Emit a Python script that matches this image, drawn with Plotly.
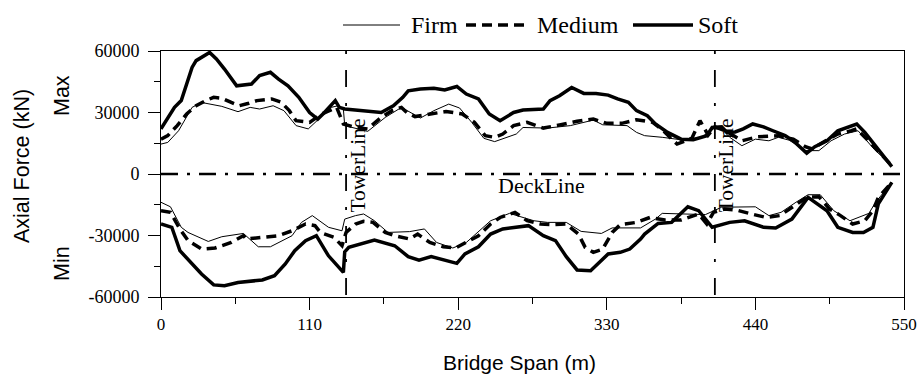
import plotly.graph_objects as go

# ---------------- data ----------------
soft_max_x = [0, 10, 15, 23, 26, 30, 36, 41, 47, 56, 67, 73, 81, 87, 94, 102, 110, 116, 121, 129, 132, 136,
              163, 172, 179, 183, 192, 202, 210, 219, 226, 235, 243, 251, 261, 268, 283, 288, 295, 304, 313,
              322, 331, 338, 346, 352, 360, 366, 375, 385, 394, 404, 408, 415, 419, 425, 431, 438, 446, 453,
              462, 468, 478, 484, 493, 501, 509, 515, 521, 531, 541]
soft_max_y = [22000, 32500, 35800, 52000, 55300, 57000, 59300, 56100, 51200, 43000, 43900, 48000, 49600, 46300,
              43000, 37400, 30000, 26800, 30000, 35800, 32500, 31700, 30000, 33300, 37400, 40600, 41500, 41800,
              41000, 42700, 39000, 36600, 29300, 26000, 30000, 31200, 31700, 35800, 38200, 42200, 39300, 39300,
              38500, 36600, 35000, 30900, 28400, 24400, 20300, 17000, 16700, 18700, 22700, 23000, 20300, 20500,
              22000, 24400, 23000, 21100, 18700, 16200, 10200, 13300, 16200, 21100, 23200, 24400, 20300, 12200,
              3600]

medium_max_x = [0, 5, 12, 19, 26, 33, 39, 45, 52, 58, 65, 71, 82, 89, 95, 100, 110, 119, 130, 135, 144, 153,
                163, 171, 178, 182, 188, 199, 211, 223, 232, 240, 247, 253, 261, 271, 283, 295, 308, 320, 330,
                341, 352, 364, 372, 382, 393, 399, 405, 410, 418, 430, 442, 457, 468, 477, 482, 492, 501, 511,
                515, 526, 541]
medium_max_y = [17000, 18700, 23600, 29300, 33300, 35800, 37400, 37000, 34900, 33300, 34500, 35800, 36600,
                35000, 30900, 26000, 25200, 29300, 32500, 24400, 22700, 22000, 27600, 30900, 32500, 30000,
                28000, 29000, 30500, 29300, 25200, 18700, 17900, 19500, 23600, 25200, 22400, 23900, 25700,
                26800, 24700, 24700, 26500, 25200, 21000, 14600, 17500, 26000, 19000, 23000, 21000, 16200,
                18200, 18700, 17000, 13300, 12200, 16200, 19500, 21100, 22000, 14600, 4000]

firm_max_x = [0, 5, 13, 23, 30, 45, 57, 66, 73, 83, 91, 100, 109, 118, 126, 131, 135, 136, 144, 153, 166, 178,
              192, 202, 213, 221, 230, 239, 247, 263, 268, 286, 303, 320, 327, 345, 352, 358, 371, 385, 400,
              409, 415, 421, 430, 440, 450, 457, 465, 477, 487, 496, 506, 516, 528, 541]
firm_max_y = [14600, 15400, 21100, 32500, 34900, 33000, 30400, 32500, 31700, 33300, 30900, 23600, 22000,
              27600, 32500, 33300, 31700, 23600, 22400, 20800, 27600, 32500, 27300, 30900, 34100, 32200,
              25200, 17400, 15800, 19500, 22700, 22400, 23600, 26300, 24000, 23600, 20300, 18700, 17900,
              16700, 17900, 22000, 22000, 17900, 13800, 17000, 16200, 17900, 16500, 11400, 11400, 16200,
              19500, 21100, 12000, 4000]

soft_min_x = [0, 8, 14, 23, 30, 39, 47, 57, 75, 84, 92, 99, 107, 115, 124, 135, 136, 139, 149, 158, 173,
              183, 191, 200, 219, 225, 235, 244, 253, 272, 283, 292, 300, 308, 318, 331, 340, 347, 355, 358,
              368, 378, 390, 398, 408, 421, 432, 446, 455, 467, 479, 493, 501, 512, 520, 527, 531, 541]
soft_min_y = [-24400, -26000, -37400, -43900, -48800, -54100, -54500, -52900, -51700, -49600, -43900, -37400,
              -32500, -30100, -39900, -48000, -38000, -35800, -34100, -32200, -35000, -40300, -42000, -40300,
              -43600, -39000, -35500, -29300, -26800, -25200, -30100, -32500, -40300, -46800, -47200, -39000,
              -38200, -36600, -31700, -29300, -24100, -23600, -16000, -17900, -26000, -23600, -22800, -26000,
              -26300, -22000, -11400, -17900, -26000, -28500, -28500, -26000, -14600, -4100]

medium_min_x = [0, 7, 14, 20, 30, 40, 52, 61, 63, 75, 87, 97, 107, 114, 118, 128, 134, 137, 144, 150, 157,
                166, 173, 184, 190, 199, 209, 218, 226, 235, 244, 251, 262, 271, 281, 290, 300, 309, 314, 320,
                327, 334, 340, 352, 362, 373, 385, 398, 404, 409, 417, 426, 437, 448, 458, 467, 478, 487, 495,
                503, 512, 521, 527, 531, 541]
medium_min_y = [-17900, -18700, -26800, -32500, -36600, -36100, -33400, -30100, -31700, -30900, -30100,
                -27700, -24400, -25200, -28500, -30900, -35000, -28500, -24400, -23100, -23600, -28500,
                -30100, -31700, -29300, -33400, -35500, -36100, -33400, -30100, -24400, -21200, -18700,
                -22800, -24400, -24700, -24400, -29300, -35800, -38200, -36600, -28500, -24700, -23600,
                -21200, -22400, -22400, -19500, -24400, -18700, -17100, -17600, -19500, -21200, -20300,
                -16200, -11400, -11100, -17100, -20300, -24400, -22800, -17900, -11400, -4100]

firm_min_x = [0, 7, 15, 20, 35, 45, 61, 72, 81, 97, 104, 112, 124, 134, 136, 144, 150, 158, 168, 184, 195,
              204, 216, 226, 244, 258, 276, 286, 300, 311, 326, 334, 355, 366, 371, 388, 403, 415, 440, 450,
              459, 470, 479, 488, 498, 510, 524, 529, 541]
firm_min_y = [-13800, -16000, -26000, -28500, -32900, -30600, -29000, -35500, -35500, -30100, -23600, -20300,
              -26000, -27700, -22000, -20300, -19500, -22800, -28500, -28100, -26800, -33400, -36100, -33400,
              -22800, -19200, -22800, -23600, -23600, -28000, -29000, -26300, -26300, -22000, -19200, -19500,
              -19800, -16200, -16000, -20300, -18700, -13800, -10100, -10100, -17900, -22800, -19200, -13800,
              -4000]

tower_x = [137, 410]
deck_y = 0
x_ticks = [0, 110, 220, 330, 440, 550]
y_ticks = [-60000, -30000, 0, 30000, 60000]
y_ticktext = ["-60000", "-30000", "0", "30000", "60000"]

# ---------------- figure ----------------
SERIF = "Liberation Serif"
SANS = "Liberation Sans"
W, H = 917, 377
L, R, T, B = 161, 13, 51, 80
PW, PH = W - L - R, H - T - B


def px_x(p):
    return (p - L) / PW


def px_y(p):
    return (H - B - p) / PH


fig = go.Figure()

styles = {
    "Firm": dict(width=1, dash="solid"),
    "Medium": dict(width=3.5, dash="10px,6px"),
    "Soft": dict(width=3.5, dash="solid"),
}
series = [
    ("Firm", firm_max_x, firm_max_y), ("Medium", medium_max_x, medium_max_y), ("Soft", soft_max_x, soft_max_y),
    ("Firm", firm_min_x, firm_min_y), ("Medium", medium_min_x, medium_min_y), ("Soft", soft_min_x, soft_min_y),
]
for name, xs, ys in series:
    fig.add_trace(go.Scatter(x=xs, y=ys, mode="lines", name=name, showlegend=False,
                             line=dict(color="black", **styles[name])))

# deck line and tower lines
fig.add_shape(type="line", xref="x", yref="y", x0=0, x1=550, y0=deck_y, y1=deck_y,
              line=dict(color="black", width=2.5, dash="17px,9px,3px,9px"))
for tx in tower_x:
    fig.add_shape(type="line", xref="x", yref="y", x0=tx, x1=tx, y0=60000, y1=-60000,
                  line=dict(color="black", width=1.8, dash="3px,16px,17px,16px"))
    fig.add_annotation(text="TowerLine", x=tx, xref="x", y=px_y(165.5), yref="paper",
                       xshift=11, textangle=-90, showarrow=False, xanchor="center", yanchor="middle",
                       font=dict(family=SERIF, size=21.5, color="black"))

fig.add_annotation(text="DeckLine", x=px_x(541), y=px_y(185), xref="paper", yref="paper",
                   xanchor="center", yanchor="middle",
                   showarrow=False, font=dict(family=SERIF, size=22, color="black"))

# manual legend
leg_y = px_y(25)
legend_items = [("Firm", 343, 400, 409), ("Medium", 466, 526, 535), ("Soft", 633, 693, 696)]
for name, a, b, tx in legend_items:
    fig.add_shape(type="line", xref="paper", yref="paper", x0=px_x(a), x1=px_x(b), y0=leg_y, y1=leg_y,
                  line=dict(color="black", **styles[name]))
    fig.add_annotation(text=name, x=px_x(tx), y=leg_y, xref="paper", yref="paper", xanchor="left",
                       yanchor="middle", showarrow=False, font=dict(family=SERIF, size=24, color="black"))

# axis titles
def side_text(text, x, y, angle, size=21.5):
    fig.add_annotation(text=text, x=px_x(x), y=px_y(y), xref="paper", yref="paper",
                       xanchor="center", yanchor="middle", textangle=angle, showarrow=False,
                       font=dict(family=SANS, size=size, color="black"))


side_text("Axial Force (kN)", 22, 166, -90)
side_text("Max", 62, 95, -90)
side_text("Min", 62, 263, -90)
side_text("Bridge Span (m)", 519, 362, 0, size=21)

axis_common = dict(showgrid=False, zeroline=False, showline=True, linecolor="black", linewidth=1,
                   mirror=True, automargin=False, ticks="outside", ticklen=12, tickcolor="black",
                   tickwidth=1)
fig.update_xaxes(range=[0, 550], tickmode="array", tickvals=x_ticks,
                 tickfont=dict(family=SERIF, size=17, color="black"),
                 minor=dict(tick0=0, dtick=55, ticks="outside", ticklen=6,
                            tickcolor="black", tickwidth=1),
                 **axis_common)
fig.update_yaxes(range=[-60000, 60000], tickmode="array", tickvals=y_ticks, ticktext=y_ticktext,
                 ticklabelstandoff=5, tickfont=dict(family=SERIF, size=18, color="black"),
                 minor=dict(tick0=0, dtick=15000, ticks="outside", ticklen=6,
                            tickcolor="black", tickwidth=1),
                 **axis_common)

fig.update_layout(template="none", width=W, height=H, margin=dict(l=L, r=R, t=T, b=B, pad=0),
                  plot_bgcolor="white", paper_bgcolor="white", showlegend=False)

fig.write_html("out.html")
